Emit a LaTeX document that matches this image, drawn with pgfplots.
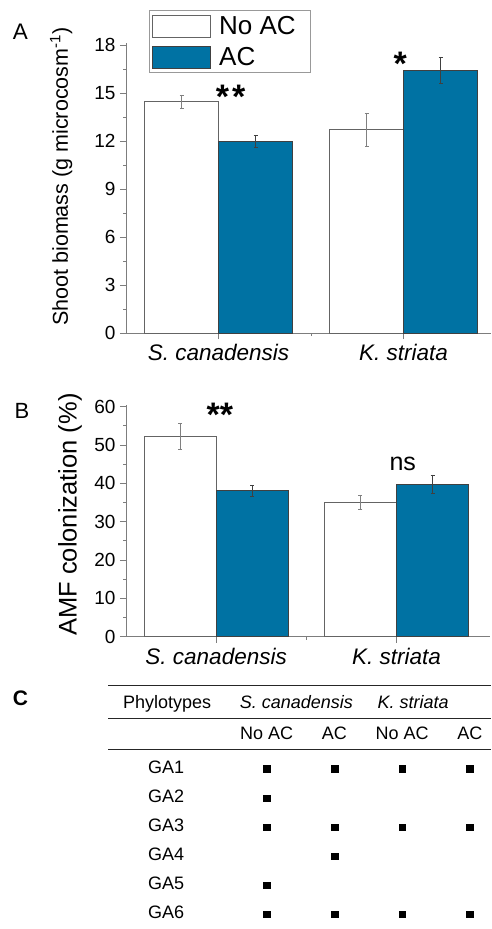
\documentclass[border=0pt]{standalone}
\usepackage{pgfplots}
\pgfplotsset{compat=1.18}
\usepackage{fontspec}
\setmainfont{Liberation Sans}

\definecolor{acblue}{RGB}{0,114,163}
\definecolor{axgray}{RGB}{125,125,125}
\definecolor{edgegray}{RGB}{100,100,100}

\newcommand{\fs}[1]{\fontsize{#1}{#1}\selectfont}

\pgfplotsset{
  panel/.style={
    scale only axis, anchor=south west, clip=false,
    axis x line*=bottom, axis y line*=left,
    axis line style={axgray, line width=0.9pt},
    tick style={axgray, line width=0.9pt},
    tick align=outside, major tick length=6pt, minor tick length=3pt,
    xtick={0,1}, minor xtick={0.5},
    xticklabels={\textit{S. canadensis}, \textit{K. striata}},
    xticklabel style={font=\fs{22.5}, yshift=-2pt},
    yticklabel style={font=\fs{19}, xshift=-1pt},
    /pgf/number format/assume math mode=true,
    minor y tick num=1,
  },
  % bars are placed at their own x (category -/+ 0.2), so error bars sit on them
  noac/.style={ybar, bar width=0.4, bar shift=0, fill=white, draw=edgegray, line width=0.8pt,
    legend image code/.code={\draw[fill=white, draw=edgegray, line width=0.8pt] (0pt,-11pt) rectangle (58pt,11pt);},
    error bars/.cd, y dir=both, y explicit,
    error bar style={gray, line width=0.8pt},
    error mark options={rotate=90, mark size=2pt, gray, line width=0.8pt}},
  ac/.style={ybar, bar width=0.4, bar shift=0, fill=acblue, draw=black!75, line width=0.8pt,
    legend image code/.code={\draw[fill=acblue, draw=black!75, line width=0.8pt] (0pt,-11pt) rectangle (58pt,11pt);},
    error bars/.cd, y dir=both, y explicit,
    error bar style={black!75, line width=0.8pt},
    error mark options={rotate=90, mark size=2pt, black!75, line width=0.8pt}},
}

\begin{document}
\begin{tikzpicture}
\useasboundingbox (0pt,0pt) rectangle (491pt,-929pt);

% ---------- Panel A: shoot biomass ----------
\node[font=\fs{22.5}] at (20.5pt,-31.5pt) {A};
\begin{axis}[panel,
  at={(126pt,-333pt)},
  width=364.5pt, height=289.6pt,
  xmin=-0.5, xmax=1.47, ymin=0, ymax=18.1,
  ytick={0,3,...,18},
  ylabel={Shoot biomass (g microcosm\textsuperscript{-1})},
  ylabel style={font=\fs{21.5}, at={(axis description cs:-0.178,0.54)}, anchor=center},
  legend style={at={(0.063,1.115)}, anchor=north west, draw=gray!80, line width=0.8pt,
    font=\fs{26}, inner xsep=3pt, inner ysep=4pt, row sep=7pt, column sep=6pt},
  legend cell align=left,
]
\addplot[noac] coordinates {(-0.2,14.45) +- (0,0.43) (0.8,12.71) +- (0,1.03)};
\addlegendentry{No AC\kern10pt}
\addplot[ac] coordinates {(0.2,11.97) +- (0,0.36) (1.2,16.42) +- (0,0.80)};
\addlegendentry{AC}
\node[font=\bfseries\fs{34}] at (axis cs:0.066,14.75) {*\hspace{3pt}*};
\node[font=\bfseries\fs{34}] at (axis cs:0.982,16.85) {*};
\end{axis}

% ---------- Panel B: AMF colonization ----------
\node[font=\fs{22}] at (22pt,-410.5pt) {B};
\begin{axis}[panel,
  at={(126pt,-636.7pt)},
  width=364.2pt, height=231.9pt,
  xmin=-0.5, xmax=1.52, ymin=0, ymax=60.5,
  ytick={0,10,...,60},
  ylabel={AMF colonization (\%)},
  ylabel style={font=\fs{25.5}, at={(axis description cs:-0.154,0.527)}, anchor=center},
]
\addplot[noac] coordinates {(-0.2,52.28) +- (0,3.35) (0.8,35.06) +- (0,1.90)};
\addplot[ac] coordinates {(0.2,38.09) +- (0,1.45) (1.2,39.84) +- (0,2.35)};
\node[font=\bfseries\fs{34}] at (axis cs:0.02,58.0) {**};
\node[font=\fs{25}] at (axis cs:1.035,45.0) {ns};
\end{axis}

% ---------- Panel C: phylotype occurrence ----------
\node[font=\bfseries\fs{21}] at (20.5pt,-698.5pt) {C};
\begin{axis}[
  scale only axis, anchor=north west, clip=false, hide axis,
  at={(108pt,-685.7pt)},
  width=383pt, height=243.3pt,
  xmin=-1.341, xmax=4.31, ymin=-6.506, ymax=1.866,
]
% table rules
\draw[black!85, line width=1.4pt] (axis cs:-1.341,1.866) -- (axis cs:4.31,1.866);
\draw[black!85, line width=1.4pt] (axis cs:-1.341,0.745) -- (axis cs:4.31,0.745);
\draw[black!85, line width=1.4pt] (axis cs:-1.341,-0.322) -- (axis cs:4.31,-0.322);
% header rows
\node[font=\fs{18}, anchor=base] at (axis cs:-0.47,1.089) {Phylotypes};
\node[font=\fs{18}\itshape, anchor=base] at (axis cs:1.44,1.089) {S. canadensis};
\node[font=\fs{18}\itshape, anchor=base] at (axis cs:3.16,1.089) {K. striata};
\node[font=\fs{18}, anchor=base] at (axis cs:1,0) {No AC};
\node[font=\fs{18}, anchor=base] at (axis cs:2,0) {AC};
\node[font=\fs{18}, anchor=base] at (axis cs:3,0) {No AC};
\node[font=\fs{18}, anchor=base] at (axis cs:4,0) {AC};
% row labels
\pgfplotsinvokeforeach{1,...,6}{
  \node[font=\fs{18}, anchor=base] at (axis cs:-0.485,{-#1-0.148}) {GA#1};
}
% presence of each phylotype (column = host x treatment, row = phylotype)
\addplot[only marks, mark=square*, mark size=3.3pt, black] coordinates {
  (1,-1) (2,-1) (3,-1) (4,-1)
  (1,-2)
  (1,-3) (2,-3) (3,-3) (4,-3)
  (2,-4)
  (1,-5)
  (1,-6) (2,-6) (3,-6) (4,-6)
};
\end{axis}
\end{tikzpicture}
\end{document}
